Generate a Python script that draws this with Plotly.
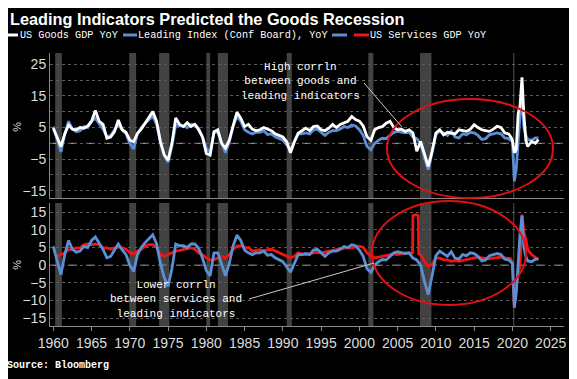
import plotly.graph_objects as go

# ---------------- data ----------------
title_text = "Leading Indicators Predicted the Goods Recession"
legend_labels = ["US Goods GDP YoY", "Leading Index (Conf Board), YoY", "", "US Services GDP YoY"]
source_text = "Source: Bloomberg"
note_top = "High corrln<br>between goods and<br>leading indicators"
note_bottom = "Lower corrln<br>between services and<br>leading indicators"

year_ticks = [1960, 1965, 1970, 1975, 1980, 1985, 1990, 1995, 2000, 2005, 2010, 2015, 2020, 2025]

# half-year observation dates 1960.0 .. 2019.5
half_years = [1960 + 0.5 * i for i in range(120)]
tail_dates = [2019.75, 2020.0, 2020.25, 2020.5, 2020.75, 2021.0, 2021.25, 2021.5, 2021.75,
              2022.0, 2022.5, 2023.0, 2023.4]

goods_main = [
    4.8, 2.0, -1.0, 3.0, 5.8, 4.5, 4.3, 5.0, 4.8, 5.5,
    7.0, 10.4, 7.0, 6.0, 1.6, 2.0, 3.7, 7.4, 4.3, 3.5,
    1.0, 0.5, 3.2, 4.5, 6.4, 8.0, 10.1, 7.0, 0.5, -3.7,
    -5.3, 0.0, 8.0, 6.0, 5.3, 6.5, 5.3, 6.0, 4.3, 2.0,
    -3.2, -3.7, 3.7, 4.3, 0.0, -1.5, 1.0, 5.5, 9.8, 8.0,
    5.3, 6.0, 4.5, 4.0, 4.3, 5.0, 4.5, 4.0, 3.0, 2.5,
    2.0, 0.5, -3.0, 0.5, 3.2, 4.0, 4.8, 4.0, 5.3, 5.5,
    4.3, 4.0, 4.8, 6.0, 5.0, 6.0, 6.4, 7.0, 8.5, 7.5,
    7.0, 5.5, 2.1, 1.0, 4.3, 5.0, 5.3, 6.4, 7.0, 5.0,
    4.3, 4.5, 3.8, 4.3, 3.3, -2.5, 0.6, -3.6, -7.3, -2.5,
    3.3, 4.3, 2.7, 3.5, 3.3, 3.0, 4.3, 4.0, 3.8, 4.5,
    5.9, 5.0, 4.3, 4.0, 3.8, 4.5, 5.4, 5.0, 3.3, 3.0,
]
goods_tail = [2.2, 1.0, -3.0, -2.0, 9.5, 12.0, 20.9, 9.0, 1.0, -1.0, 0.6, 0.0, 1.2]

leading_main = [
    5.3, 1.5, -2.7, 3.0, 7.0, 4.5, 3.7, 4.0, 5.3, 5.0,
    7.0, 8.0, 6.4, 4.5, 2.1, 2.5, 4.3, 6.0, 4.3, 3.0,
    0.0, -1.8, 3.0, 5.0, 6.4, 7.5, 8.6, 6.0, 0.5, -3.5,
    -6.0, -1.0, 6.0, 5.5, 5.5, 5.0, 6.0, 6.0, 4.8, 2.0,
    -1.5, -3.0, 3.5, 3.5, 0.5, -3.0, 0.5, 5.5, 8.5, 7.0,
    4.3, 3.5, 3.0, 3.5, 3.5, 4.0, 2.8, 3.0, 2.1, 1.5,
    1.0, -0.5, -2.0, 0.5, 3.0, 3.0, 3.3, 3.0, 4.3, 4.5,
    3.5, 2.5, 3.5, 4.0, 4.0, 4.5, 5.3, 5.0, 5.8, 5.5,
    4.3, 2.5, -1.0, -2.0, 0.0, 1.0, 1.6, 1.5, 2.5, 3.5,
    3.8, 3.5, 3.3, 3.5, 2.0, 1.5, 0.0, -4.5, -8.3, -3.0,
    2.7, 4.0, 3.3, 2.5, 3.8, 2.0, 1.7, 3.0, 2.7, 3.5,
    3.3, 2.5, 1.2, 1.5, 2.7, 3.0, 3.3, 3.0, 1.7, 1.5,
]
leading_tail = [1.0, 0.5, -12.0, -8.0, 0.5, 9.0, 14.0, 5.0, 2.5, 1.2, 1.0, 1.7, 1.7]

# services: half-year dates 1960.5 .. 2006.5, then irregular dates
services_dates_a = [1960.5 + 0.5 * i for i in range(93)]
services_main = [
    2.5, 3.0, 3.5, 4.4, 4.5, 4.9, 5.0, 5.8, 6.0,
    5.8, 6.0, 5.8, 5.0, 4.9, 4.5, 4.9, 5.2, 4.9, 4.5,
    3.5, 3.2, 4.0, 4.5, 5.4, 5.8, 5.8, 5.0, 3.0, 2.5,
    3.0, 3.5, 4.0, 4.2, 4.4, 4.8, 4.9, 4.5, 3.5, 3.0,
    2.1, 1.5, 1.6, 2.0, 2.5, 2.0, 3.0, 4.5, 5.4, 5.5,
    4.9, 5.0, 4.0, 4.2, 4.4, 4.0, 4.4, 4.5, 4.0, 3.5,
    3.0, 2.5, 2.1, 2.5, 3.5, 3.2, 3.0, 3.3, 3.5, 3.6,
    3.5, 3.8, 4.0, 4.2, 4.4, 4.6, 4.9, 5.0, 4.9, 5.2,
    5.4, 5.0, 3.5, 2.5, 2.1, 2.3, 2.5, 2.8, 3.0, 3.2,
    3.0, 3.2, 3.5, 3.4,
]
services_dates_b = [2006.95, 2007.0, 2007.4, 2007.7, 2007.75, 2008.0, 2008.5, 2009.0, 2009.5,
                    2010.0, 2010.5, 2011.0, 2011.5, 2012.0, 2012.5, 2013.0, 2013.5, 2014.0,
                    2014.5, 2015.0, 2015.5, 2016.0, 2016.5, 2017.0, 2017.5, 2018.0, 2018.5,
                    2019.0, 2019.5, 2019.75, 2020.0, 2020.25, 2020.5, 2020.75, 2021.0,
                    2021.25, 2021.5, 2021.75, 2022.0, 2022.5, 2023.0, 2023.4]
services_tail = [3.5, 14.0, 14.3, 14.0, 3.2, 3.0, 1.1, -0.3, 0.2,
                 2.1, 2.0, 1.6, 1.5, 1.1, 1.3, 1.1, 1.4, 1.6,
                 2.0, 2.1, 2.2, 2.1, 1.9, 1.8, 2.0, 2.1, 2.3,
                 2.1, 2.0, 1.8, 0.5, -12.0, -5.5, -3.0, 0.0,
                 14.3, 9.2, 7.3, 4.4, 3.0, 2.1, 1.6]

recession_start = [1960.25, 1969.92, 1973.83, 1980.0, 1981.5, 1990.5, 2001.17, 2007.92, 2020.08]
recession_end = [1961.12, 1970.83, 1975.17, 1980.5, 1982.83, 1991.17, 2001.83, 2009.42, 2020.25]

# ---------------- styling ----------------
WHITE = "#ffffff"
BLUE = "#5b8fd3"
RED = "#f01414"
BG = "#000000"
GRID = "#5a5a5a"
TICKC = "#dcdcdc"
RECESS = "#424242"
MONO = "Liberation Mono, DejaVu Sans Mono, monospace"
SANS = "Liberation Sans, Arial, sans-serif"

# the page body has an 8px margin: window pixel = figure pixel + OFF
OFF = 8
WIN_W, WIN_H = 577, 379
W, H = WIN_W - OFF, WIN_H - OFF
# plot area in window pixels: x 50..564, y 53..326
L = 50 - OFF
R = W - (564 - OFF)
T = 53 - OFF
B = H - (326 - OFF)
PW = W - L - R
PH = H - T - B


def px2x(px):
    return (px - OFF - L) / PW


def px2y(py):
    return (H - B - (py - OFF)) / PH


goods_x = half_years + tail_dates
goods_y = goods_main + goods_tail
lead_x = half_years + tail_dates
lead_y = leading_main + leading_tail
serv_x = services_dates_a + services_dates_b
serv_y = services_main + services_tail

fig = go.Figure()
# top panel (y2): blue underneath white
fig.add_trace(go.Scatter(x=lead_x, y=lead_y, mode="lines", line=dict(color=BLUE, width=2.8),
                         xaxis="x2", yaxis="y2", showlegend=False, hoverinfo="skip"))
fig.add_trace(go.Scatter(x=goods_x, y=goods_y, mode="lines", line=dict(color=WHITE, width=2.8),
                         xaxis="x2", yaxis="y2", showlegend=False, hoverinfo="skip"))
# bottom panel (y): red under blue
fig.add_trace(go.Scatter(x=serv_x, y=serv_y, mode="lines", line=dict(color=RED, width=2.8),
                         xaxis="x", yaxis="y", showlegend=False, hoverinfo="skip"))
fig.add_trace(go.Scatter(x=lead_x, y=lead_y, mode="lines", line=dict(color=BLUE, width=2.8),
                         xaxis="x", yaxis="y", showlegend=False, hoverinfo="skip"))

shapes = []
# recession bars in both panels
for s, e in zip(recession_start, recession_end):
    for xr, yr in (("x", "y domain"), ("x2", "y2 domain")):
        shapes.append(dict(type="rect", xref=xr, yref=yr, x0=s, x1=e, y0=0, y1=1,
                           fillcolor=RECESS, line=dict(width=0), layer="below"))
# dashed zero lines
for xr, yr in (("x domain", "y"), ("x2 domain", "y2")):
    shapes.append(dict(type="line", xref=xr, yref=yr, x0=0, x1=1, y0=0, y1=0,
                       line=dict(color="#b0b0b0", width=1, dash="dash"), layer="below"))

# red ellipses (paper coords)
shapes.append(dict(type="circle", xref="paper", yref="paper",
                   x0=px2x(387), x1=px2x(553), y0=px2y(198), y1=px2y(99),
                   line=dict(color="#e01010", width=2)))
shapes.append(dict(type="circle", xref="paper", yref="paper",
                   x0=px2x(372), x1=px2x(526), y0=px2y(305), y1=px2y(201),
                   line=dict(color="#e01010", width=2)))
# annotation pointer lines
shapes.append(dict(type="line", xref="paper", yref="paper",
                   x0=px2x(364), y0=px2y(83), x1=px2x(402), y1=px2y(127),
                   line=dict(color="#c8c8c8", width=1)))
shapes.append(dict(type="line", xref="paper", yref="paper",
                   x0=px2x(249), y0=px2y(299), x1=px2x(374), y1=px2y(263),
                   line=dict(color="#c8c8c8", width=1)))

# custom legend (line segments + centred labels)
leg_colors = [WHITE, BLUE, BLUE, RED]
leg_line_px = [(8, 18), (123, 137), (332, 347), (354, 369)]
leg_text_center_px = [69, 233, None, 428]
leg_y = 35
annotations = []
for lab, col, (a, b), tx in zip(legend_labels, leg_colors, leg_line_px, leg_text_center_px):
    shapes.append(dict(type="line", xref="paper", yref="paper",
                       x0=px2x(a), x1=px2x(b), y0=px2y(leg_y), y1=px2y(leg_y),
                       line=dict(color=col, width=3)))
    if lab:
        annotations.append(dict(text=lab, xref="paper", yref="paper", x=px2x(tx), y=px2y(leg_y),
                                xanchor="center", yanchor="middle", showarrow=False,
                                font=dict(family=MONO, size=10.2, color=WHITE)))

annotations += [
    dict(text="<b>" + title_text + "</b>", xref="paper", yref="paper", x=px2x(207), y=px2y(18.5),
         xanchor="center", yanchor="middle", showarrow=False,
         font=dict(family=SANS, size=16.3, color=WHITE)),
    dict(text="<b>" + source_text + "</b>", xref="paper", yref="paper", x=px2x(58), y=px2y(365),
         xanchor="center", yanchor="middle", showarrow=False,
         font=dict(family=MONO, size=10, color=WHITE)),
    dict(text=note_top, xref="paper", yref="paper", x=px2x(300), y=px2y(81),
         xanchor="center", yanchor="middle", showarrow=False, align="center",
         font=dict(family=MONO, size=11, color=WHITE)),
    dict(text=note_bottom, xref="paper", yref="paper", x=px2x(176), y=px2y(299),
         xanchor="center", yanchor="middle", showarrow=False, align="center",
         font=dict(family=MONO, size=11, color=WHITE)),
    dict(text="%", xref="paper", yref="paper", x=px2x(17), y=px2y(127), textangle=90,
         xanchor="center", yanchor="middle", showarrow=False,
         font=dict(family=SANS, size=11, color=TICKC)),
    dict(text="%", xref="paper", yref="paper", x=px2x(17), y=px2y(265), textangle=90,
         xanchor="center", yanchor="middle", showarrow=False,
         font=dict(family=SANS, size=11, color=TICKC)),
]

xrange = [1959.57, 2026.74]
bottom_dom = [0, px2y(203)]
top_dom = [px2y(198), 1]

axis_common = dict(showline=True, linecolor="#8a8a8a", linewidth=1, zeroline=False, automargin=False)

fig.update_layout(
    width=W, height=H,
    margin=dict(l=L, r=R, t=T, b=B, autoexpand=False),
    paper_bgcolor=BG, plot_bgcolor=BG,
    showlegend=False,
    shapes=shapes, annotations=annotations,
    xaxis=dict(domain=[0, 1], range=xrange, anchor="y", tickmode="array", tickvals=year_ticks,
               ticktext=[str(v) for v in year_ticks], ticks="outside", ticklen=4, tickcolor="#8a8a8a",
               showgrid=False, tickfont=dict(family=SANS, size=14, color=TICKC), **axis_common),
    xaxis2=dict(domain=[0, 1], range=xrange, anchor="y2", matches="x", showticklabels=False,
                showgrid=False, ticks="", **axis_common),
    yaxis=dict(domain=bottom_dom, range=[-17.2, 17.6], anchor="x", tickmode="linear", tick0=-15,
               dtick=5, showgrid=True, gridcolor=GRID, griddash="dot", gridwidth=1,
               tickfont=dict(family=SANS, size=14, color=TICKC), ticks="", **axis_common),
    yaxis2=dict(domain=top_dom, range=[-17.3, 28.6], anchor="x2", tickmode="linear", tick0=-15,
                dtick=10, showgrid=True, gridcolor=GRID, griddash="dot", gridwidth=1,
                minor=dict(dtick=5, tick0=-15, showgrid=True, gridcolor=GRID, griddash="dot"),
                tickfont=dict(family=SANS, size=14, color=TICKC), ticks="", **axis_common),
)

fig.write_html("out.html")
